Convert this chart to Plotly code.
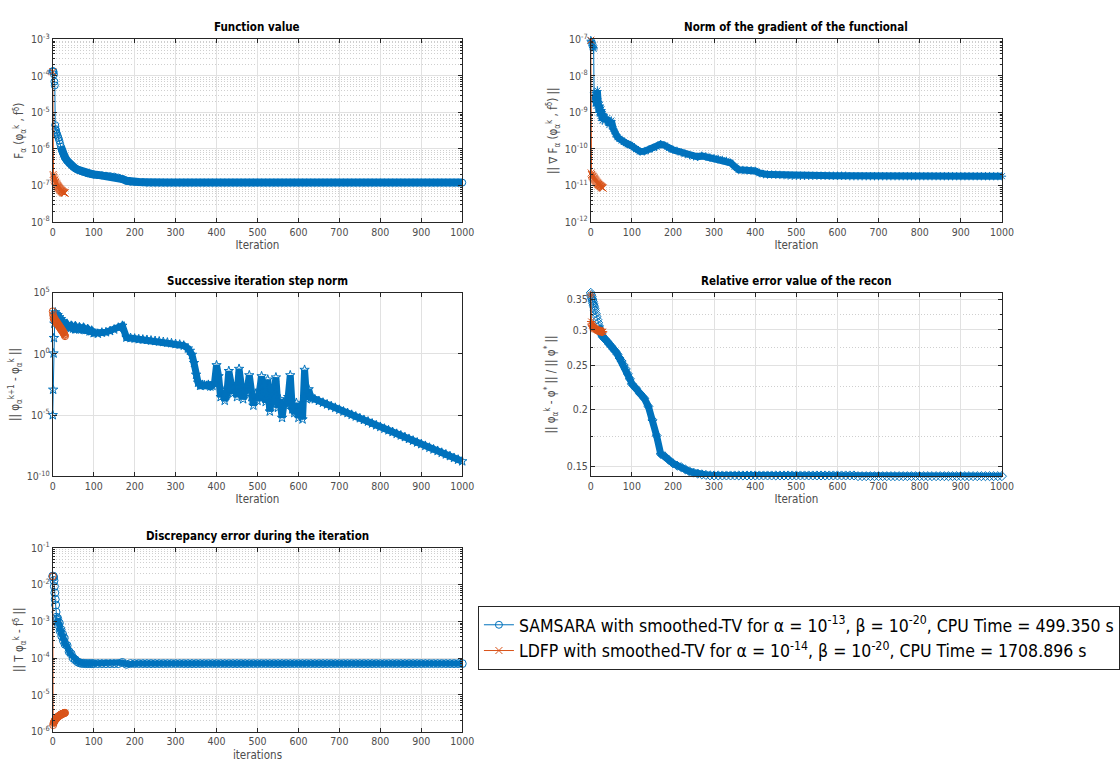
import math
import plotly.graph_objects as go

# ---------------- data ----------------
# iteration grid for SAMSARA (subplots 1, 2, 4, 5)
ITER = ([0, 1, 2, 3, 4, 5, 6, 7, 8, 9, 10,
         12, 14, 16, 18, 20, 22, 24, 26, 28, 30,
         35, 40, 45, 50, 55, 60, 65, 70, 75, 80, 85, 90, 95]
        + list(range(100, 1001, 10)))
# iteration grid for SAMSARA step norm (subplot 3)
ITER_STEP = ([0, 1, 2, 3, 4, 5, 6, 7, 8, 9, 10,
              12, 14, 16, 18, 20, 22, 24, 26, 28, 30,
              35, 40, 45, 50, 55, 60, 65, 70, 75, 80, 85, 90, 95]
             + list(range(100, 331, 10)) + list(range(335, 641, 5))
             + list(range(650, 1001, 10)))
# LDFP iterations
ITER_LDFP = list(range(0, 31))

# 1) function value
F_SAMSARA = [1.35e-4, 1.35e-4, 1.3e-4, 1.1e-4, 7e-5, 5.5e-5, 4.5e-6, 3.5e-6, 3.2e-6, 2.8e-6, 2.6e-6,
             2.3e-6, 2.0e-6, 1.7e-6, 1.4e-6, 1.15e-6, 9.5e-7, 8.3e-7, 7.3e-7, 6.5e-7, 5.8e-7,
             4.8e-7, 4.1e-7, 3.6e-7, 3.2e-7, 2.95e-7, 2.75e-7, 2.6e-7, 2.45e-7, 2.35e-7, 2.25e-7, 2.15e-7, 2.1e-7, 2.05e-7,
             2.0e-7, 1.95e-7, 1.9e-7, 1.85e-7, 1.8e-7, 1.75e-7, 1.65e-7, 1.5e-7, 1.35e-7, 1.27e-7,
             1.25e-7, 1.24e-7, 1.23e-7, 1.2e-7,
             1.2e-7, 1.2e-7, 1.2e-7, 1.2e-7, 1.2e-7, 1.2e-7, 1.2e-7, 1.2e-7, 1.2e-7, 1.2e-7,
             1.2e-7, 1.2e-7, 1.2e-7, 1.2e-7, 1.2e-7, 1.2e-7, 1.2e-7, 1.2e-7, 1.2e-7, 1.2e-7,
             1.2e-7, 1.2e-7, 1.2e-7, 1.2e-7, 1.2e-7, 1.2e-7, 1.2e-7, 1.2e-7, 1.2e-7, 1.2e-7,
             1.2e-7, 1.2e-7, 1.2e-7, 1.2e-7, 1.2e-7, 1.2e-7, 1.2e-7, 1.2e-7, 1.2e-7, 1.2e-7,
             1.2e-7, 1.2e-7, 1.2e-7, 1.2e-7, 1.2e-7, 1.2e-7, 1.2e-7, 1.2e-7, 1.2e-7, 1.2e-7,
             1.2e-7, 1.2e-7, 1.2e-7, 1.2e-7, 1.2e-7, 1.2e-7, 1.2e-7, 1.2e-7, 1.2e-7, 1.2e-7,
             1.2e-7, 1.2e-7, 1.2e-7, 1.2e-7, 1.2e-7, 1.2e-7, 1.2e-7, 1.2e-7, 1.2e-7, 1.2e-7,
             1.2e-7, 1.2e-7, 1.2e-7, 1.2e-7, 1.2e-7, 1.2e-7, 1.2e-7]
F_LDFP = [1.3e-4, 2.0e-7, 1.8e-7, 1.65e-7, 1.5e-7, 1.4e-7, 1.3e-7, 1.22e-7, 1.15e-7, 1.1e-7, 1.05e-7,
          1.0e-7, 9.6e-8, 9.2e-8, 8.9e-8, 8.6e-8, 8.3e-8, 8.0e-8, 7.8e-8, 7.6e-8, 7.4e-8,
          7.2e-8, 7.0e-8, 6.8e-8, 6.7e-8, 6.6e-8, 6.5e-8, 6.4e-8, 6.3e-8, 6.2e-8, 6.2e-8]

# 2) norm of gradient
G_SAMSARA = [9.5e-8, 9e-8, 8.5e-8, 8e-8, 7e-8, 6.5e-8, 6e-8, 5.5e-8, 3.5e-9, 2.5e-9, 2.2e-9,
             3e-9, 1.5e-9, 4e-9, 2e-9, 1e-9, 1.6e-9, 8e-10, 1.2e-9, 6e-10, 9e-10,
             6e-10, 7e-10, 4.5e-10, 6e-10, 3.5e-10, 2.6e-10, 2.1e-10, 1.9e-10, 1.7e-10, 1.55e-10, 1.45e-10, 1.35e-10, 1.3e-10,
             1.2e-10, 1.0e-10, 8.5e-11, 8.6e-11, 9.5e-11, 1.05e-10, 1.15e-10, 1.35e-10, 1.25e-10, 1.05e-10,
             9.5e-11, 8.8e-11, 8.0e-11, 7.3e-11, 6.8e-11, 6.3e-11, 6.1e-11, 6.5e-11, 6.2e-11, 5.8e-11,
             5.6e-11, 5.3e-11, 5.0e-11, 4.7e-11, 4.2e-11, 3.3e-11, 2.7e-11, 2.65e-11, 2.6e-11, 2.6e-11,
             2.5e-11, 2.2e-11, 2.05e-11, 2.0e-11, 2.0e-11, 1.98e-11, 1.95e-11, 1.92e-11, 1.88e-11, 1.85e-11,
             1.85e-11, 1.85e-11, 1.85e-11, 1.85e-11, 1.85e-11, 1.85e-11, 1.85e-11, 1.85e-11, 1.85e-11, 1.85e-11,
             1.85e-11, 1.85e-11, 1.85e-11, 1.8e-11, 1.8e-11, 1.8e-11, 1.8e-11, 1.8e-11, 1.8e-11, 1.8e-11,
             1.8e-11, 1.8e-11, 1.8e-11, 1.8e-11, 1.8e-11, 1.8e-11, 1.8e-11, 1.8e-11, 1.8e-11, 1.8e-11,
             1.8e-11, 1.8e-11, 1.8e-11, 1.8e-11, 1.8e-11, 1.8e-11, 1.8e-11, 1.8e-11, 1.8e-11, 1.8e-11,
             1.8e-11, 1.8e-11, 1.8e-11, 1.8e-11, 1.8e-11, 1.8e-11, 1.8e-11, 1.8e-11, 1.8e-11, 1.8e-11,
             1.8e-11]
G_LDFP = [9.5e-8, 2.2e-11, 2.0e-11, 1.9e-11, 1.8e-11, 1.75e-11, 1.7e-11, 1.6e-11, 1.55e-11, 1.5e-11, 1.45e-11,
          1.4e-11, 1.35e-11, 1.3e-11, 1.25e-11, 1.2e-11, 1.17e-11, 1.14e-11, 1.1e-11, 1.07e-11, 1.04e-11,
          1.02e-11, 1.0e-11, 9.8e-12, 9.6e-12, 9.4e-12, 9.2e-12, 9.0e-12, 8.8e-12, 8.6e-12, 8.5e-12]

# 3) successive iteration step norm
S_SAMSARA = [1e-5, 1.2e-3, 1.1, 20, 300, 1500, 2500, 800, 1800, 600, 1200,
             1500, 500, 1000, 350, 700, 250, 500, 200, 350, 150,
             250, 150, 200, 120, 180, 110, 150, 100, 140, 90, 110, 70, 80,
             50, 45, 55, 60, 75, 100, 140, 200, 22, 20,
             18, 16, 15, 14, 12.5, 11.5, 10.5, 9.5, 8.5, 7.5,
             6.5, 5.8, 4.8, 2.8,
             1.8, 0.85, 0.18, 0.02, 0.0045, 0.0025, 0.003, 0.0028, 0.0025, 0.003,
             0.0022, 0.0025, 0.004, 0.12, 0.015, 3e-4, 1e-3, 1.5e-4, 5e-4, 0.04,
             2e-3, 6e-4, 2e-3, 3e-4, 0.06, 1e-3, 2e-4, 1.2e-3, 1.2e-3, 0.018,
             3e-4, 6e-5, 5e-4, 1.5e-4, 1e-3, 0.015, 3e-4, 1.2e-4, 0.008, 2e-5,
             3e-4, 5e-4, 0.012, 4e-5, 2e-4, 6e-6, 1e-4, 6e-5, 3e-4, 0.018,
             3e-5, 1.5e-5, 1e-4, 6e-6, 3e-5, 4.5e-6, 0.05, 2e-4, 1.3e-3, 2.8e-4,
             2.4e-4, 2e-4,
             1.45e-4, 1.05e-4, 7.6e-5, 5.5e-5, 4.0e-5, 2.8e-5, 2.0e-5, 1.5e-5, 1.07e-5, 7.8e-6,
             5.6e-6, 4.1e-6, 3.0e-6, 2.1e-6, 1.5e-6, 1.1e-6, 7.9e-7, 5.8e-7, 4.2e-7, 3.0e-7,
             2.2e-7, 1.6e-7, 1.15e-7, 8.3e-8, 5.9e-8, 4.3e-8, 3.1e-8, 2.2e-8, 1.6e-8, 1.2e-8,
             8.5e-9, 6.2e-9, 4.5e-9, 3.2e-9, 2.3e-9, 1.7e-9]
S_LDFP = [3000, 1500, 800, 1000, 600, 700, 500, 550, 400, 450, 300,
          350, 250, 280, 200, 220, 160, 180, 130, 140, 100,
          110, 80, 90, 65, 70, 50, 55, 40, 35, 28]

# 4) relative error
R_SAMSARA = [0.362, 0.358, 0.355, 0.352, 0.349, 0.346, 0.343, 0.34, 0.337, 0.334, 0.331,
             0.326, 0.321, 0.316, 0.311, 0.306, 0.301, 0.297, 0.294, 0.291, 0.289,
             0.286, 0.283, 0.279, 0.276, 0.272, 0.269, 0.265, 0.26, 0.256, 0.251, 0.246, 0.240, 0.234,
             0.228, 0.223, 0.217, 0.212, 0.2035, 0.190, 0.1755, 0.160, 0.158, 0.155,
             0.1524, 0.1506, 0.1495, 0.1478, 0.1463, 0.1454, 0.1447, 0.1441, 0.1437, 0.1434,
             0.1433, 0.1433, 0.1433, 0.1433, 0.1433, 0.1433, 0.1433, 0.1433, 0.1433, 0.1433,
             0.1433, 0.1433, 0.1433, 0.1433, 0.1433, 0.1433, 0.1433, 0.1433, 0.1433, 0.1433,
             0.1433, 0.1433, 0.1433, 0.1433, 0.1433, 0.1433, 0.1433, 0.1433, 0.1433, 0.1433,
             0.1433, 0.1433, 0.1433, 0.1433, 0.1433, 0.1428, 0.1428, 0.1428, 0.1428, 0.1428,
             0.1428, 0.1428, 0.1428, 0.1428, 0.1428, 0.1428, 0.1428, 0.1428, 0.1428, 0.1428,
             0.1428, 0.1428, 0.1428, 0.1428, 0.1428, 0.1428, 0.1428, 0.1428, 0.1428, 0.1428,
             0.1428, 0.1428, 0.1428, 0.1428, 0.1428, 0.1428, 0.1428, 0.1428, 0.1428, 0.1428,
             0.1428]
R_LDFP = [0.358, 0.313, 0.309, 0.307, 0.306, 0.305, 0.304, 0.303, 0.303, 0.302, 0.302,
          0.301, 0.301, 0.301, 0.300, 0.300, 0.300, 0.299, 0.299, 0.299, 0.299,
          0.298, 0.298, 0.298, 0.298, 0.298, 0.297, 0.297, 0.297, 0.297, 0.297]

# 5) discrepancy
D_SAMSARA = [1.7e-2, 1.7e-2, 1.6e-2, 1.3e-2, 9e-3, 6e-3, 4e-3, 2.8e-3, 1.8e-3, 1.3e-3, 1.1e-3,
             1.2e-3, 8e-4, 9e-4, 5.5e-4, 6e-4, 4e-4, 4.5e-4, 3e-4, 3.5e-4, 2.4e-4,
             2.2e-4, 1.5e-4, 1.3e-4, 1e-4, 9e-5, 8e-5, 7.5e-5, 7.2e-5, 7.2e-5, 7.1e-5, 7.1e-5, 7.1e-5, 7.1e-5,
             7.1e-5, 7.1e-5, 7.1e-5, 7.1e-5, 7.1e-5, 7.1e-5, 7.1e-5, 7.6e-5, 6.8e-5, 7.1e-5,
             7.1e-5, 7.1e-5, 7.1e-5, 7.1e-5, 7.1e-5, 7.1e-5, 7.1e-5, 7.1e-5, 7.1e-5, 7.1e-5,
             7.1e-5, 7.1e-5, 7.1e-5, 7.1e-5, 7.1e-5, 7.1e-5, 7.1e-5, 7.1e-5, 7.1e-5, 7.1e-5,
             7.1e-5, 7.1e-5, 7.1e-5, 7.1e-5, 7.1e-5, 7.1e-5, 7.1e-5, 7.1e-5, 7.1e-5, 7.1e-5,
             7.1e-5, 7.1e-5, 7.1e-5, 7.1e-5, 7.1e-5, 7.1e-5, 7.1e-5, 7.1e-5, 7.1e-5, 7.1e-5,
             7.1e-5, 7.1e-5, 7.1e-5, 7.1e-5, 7.1e-5, 7.1e-5, 7.1e-5, 7.1e-5, 7.1e-5, 7.1e-5,
             7.1e-5, 7.1e-5, 7.1e-5, 7.1e-5, 7.1e-5, 7.1e-5, 7.1e-5, 7.1e-5, 7.1e-5, 7.1e-5,
             7.1e-5, 7.1e-5, 7.1e-5, 7.1e-5, 7.1e-5, 7.1e-5, 7.1e-5, 7.1e-5, 7.1e-5, 7.1e-5,
             7.1e-5, 7.1e-5, 7.1e-5, 7.1e-5, 7.1e-5, 7.1e-5, 7.1e-5, 7.1e-5, 7.1e-5, 7.1e-5,
             7.1e-5]
D_LDFP = [1.7e-2, 1.5e-6, 1.7e-6, 1.8e-6, 1.9e-6, 2.0e-6, 2.1e-6, 2.15e-6, 2.2e-6, 2.3e-6, 2.35e-6,
          2.4e-6, 2.5e-6, 2.55e-6, 2.6e-6, 2.65e-6, 2.7e-6, 2.75e-6, 2.8e-6, 2.85e-6, 2.9e-6,
          2.95e-6, 3.0e-6, 3.0e-6, 3.05e-6, 3.1e-6, 3.1e-6, 3.15e-6, 3.2e-6, 3.2e-6, 3.25e-6]

NAME_S = "SAMSARA with smoothed-TV for α = 10<sup>-13</sup>, β = 10<sup>-20</sup>, CPU Time = 499.350 s"
NAME_L = "LDFP with smoothed-TV for α = 10<sup>-14</sup>, β = 10<sup>-20</sup>, CPU Time = 1708.896 s"
X_TICKS = [0, 100, 200, 300, 400, 500, 600, 700, 800, 900, 1000]
R_TICKS = [0.15, 0.2, 0.25, 0.3, 0.35]
R_MINOR = [0.175, 0.225, 0.275, 0.325]

for nm, xs, ys in [("F", ITER, F_SAMSARA), ("G", ITER, G_SAMSARA), ("S", ITER_STEP, S_SAMSARA),
                   ("R", ITER, R_SAMSARA), ("D", ITER, D_SAMSARA), ("FL", ITER_LDFP, F_LDFP),
                   ("GL", ITER_LDFP, G_LDFP), ("SL", ITER_LDFP, S_LDFP), ("RL", ITER_LDFP, R_LDFP),
                   ("DL", ITER_LDFP, D_LDFP)]:
    if len(xs) != len(ys):
        raise ValueError(f"{nm}: {len(xs)} vs {len(ys)}")

# ---------------- style ----------------
BLUE = "#0072BD"
ORANGE = "#D95319"
FONT = "DejaVu Sans Condensed, Liberation Sans Narrow, DejaVu Sans, sans-serif"
AXC = "#262626"
GRID = "#e1e1e1"
MGRID = "#cfcfcf"
TICKC = "#4d4d4d"

fig = go.Figure()


def add(x, y, xa, ya, color, symbol, band_from, band_w, name=None, legend=False, size=7):
    # dense part of the run: markers overlap at every iteration -> solid band
    fig.add_trace(go.Scatter(
        x=x[band_from:], y=y[band_from:], xaxis=xa, yaxis=ya, mode="lines",
        showlegend=False, cliponaxis=False, hoverinfo="skip",
        line=dict(color=color, width=band_w),
    ))
    fig.add_trace(go.Scatter(
        x=x, y=y, xaxis=xa, yaxis=ya, mode="lines+markers", name=name,
        showlegend=legend, cliponaxis=False,
        line=dict(color=color, width=1),
        marker=dict(symbol=symbol, size=size, color=color, line=dict(color=color, width=1)),
    ))


add(ITER, F_SAMSARA, "x", "y", BLUE, "circle-open", 15, 8, NAME_S, True)
add(ITER_LDFP, F_LDFP, "x", "y", ORANGE, "x-thin-open", 1, 4, NAME_L, True)
add(ITER, G_SAMSARA, "x2", "y2", BLUE, "asterisk-open", 10, 7)
add(ITER_LDFP, G_LDFP, "x2", "y2", ORANGE, "x-thin-open", 1, 4)
add(ITER_STEP, S_SAMSARA, "x3", "y3", BLUE, "star-open", 5, 7)
add(ITER_LDFP, S_LDFP, "x3", "y3", ORANGE, "circle-open", 1, 5)
add(ITER, R_SAMSARA, "x4", "y4", BLUE, "diamond-open", 15, 7)
add(ITER_LDFP, R_LDFP, "x4", "y4", ORANGE, "asterisk-open", 1, 5)
add(ITER, D_SAMSARA, "x5", "y5", BLUE, "circle-open", 10, 6, size=8)
add(ITER_LDFP, D_LDFP, "x5", "y5", ORANGE, "circle-open", 1, 5)

W, H = 1120, 768
COL1 = [50.7 / W, 468 / W]
COL2 = [599 / W, 1018 / W]
ROW1 = [1 - 218 / H, 1 - 32 / H]
ROW2 = [1 - 477 / H, 1 - 290 / H]
ROW3 = [1 - 737 / H, 1 - 550 / H]
TICKFONT = dict(family=FONT, size=10.5, color=TICKC)
LABFONT = dict(family=FONT, size=11.5, color=TICKC)


def xaxis(domain, anchor, title):
    return dict(domain=domain, anchor=anchor, range=[0, 1000], tickmode="array",
                tickvals=X_TICKS, ticks="inside", ticklen=4, tickcolor=AXC,
                mirror="allticks", showline=True, linecolor=AXC, linewidth=1,
                showgrid=True, gridcolor=GRID, gridwidth=1, zeroline=False,
                tickfont=TICKFONT, title=dict(text=title, font=LABFONT, standoff=4))


def logaxis(domain, anchor, lo, hi, title, step=1, minor=True):
    vals = [10.0 ** e for e in range(lo, hi + 1, step)]
    txt = [f"10<sup>{e}</sup>" for e in range(lo, hi + 1, step)]
    ax = dict(domain=domain, anchor=anchor, type="log", range=[lo, hi], tickmode="array",
              tickvals=vals, ticktext=txt, ticks="inside", ticklen=4, tickcolor=AXC,
              mirror="allticks", showline=True, linecolor=AXC, linewidth=1,
              showgrid=True, gridcolor=GRID, gridwidth=1, zeroline=False,
              tickfont=TICKFONT, title=dict(text=title, font=LABFONT, standoff=4))
    if minor:
        mv = [k * 10.0 ** e for e in range(lo, hi) for k in range(2, 10)]
        ax["minor"] = dict(tickmode="array", tickvals=mv, ticks="inside", ticklen=2,
                           tickcolor=AXC, showgrid=True, gridcolor=MGRID, griddash="1px,2px", gridwidth=1)
    return ax


fig.update_layout(
    width=W, height=H, margin=dict(l=0, r=0, t=0, b=0),
    paper_bgcolor="white", plot_bgcolor="white",
    font=dict(family=FONT, size=11, color=TICKC),
    xaxis=xaxis(COL1, "y", "Iteration"),
    yaxis=logaxis(ROW1, "x", -8, -3, "F<sub>α</sub> (φ<sub>α</sub><sup>k</sup> , f<sup>δ</sup>)"),
    xaxis2=xaxis(COL2, "y2", "Iteration"),
    yaxis2=logaxis(ROW1, "x2", -12, -7, "|| ∇ F<sub>α</sub> (φ<sub>α</sub><sup>k</sup> , f<sup>δ</sup>) ||"),
    xaxis3=xaxis(COL1, "y3", "Iteration"),
    yaxis3=logaxis(ROW2, "x3", -10, 5, "|| φ<sub>α</sub><sup>k+1</sup> - φ<sub>α</sub><sup>k</sup> ||", step=5, minor=False),
    xaxis4=xaxis(COL2, "y4", "Iteration"),
    yaxis4=dict(domain=ROW2, anchor="x4", type="log",
                range=[math.log10(0.1427), math.log10(0.3622)],
                tickmode="array", tickvals=R_TICKS, ticktext=["0.15", "0.2", "0.25", "0.3", "0.35"],
                ticks="inside", ticklen=4, tickcolor=AXC, mirror="allticks", showline=True,
                linecolor=AXC, linewidth=1, showgrid=True, gridcolor=GRID, zeroline=False,
                tickfont=TICKFONT,
                minor=dict(tickmode="array", tickvals=R_MINOR, ticks="inside", ticklen=2, tickcolor=AXC,
                           showgrid=True, gridcolor=MGRID, griddash="1px,2px"),
                title=dict(text="|| φ<sub>α</sub><sup>k</sup> - φ<sup>*</sup> || / || φ<sup>*</sup> ||",
                           font=LABFONT, standoff=8)),
    xaxis5=xaxis(COL1, "y5", "iterations"),
    yaxis5=logaxis(ROW3, "x5", -6, -1, "|| T φ<sub>α</sub><sup>k</sup> - f<sup>δ</sup> ||"),
    legend=dict(x=484 / W, y=1 - 609 / H, xanchor="left", yanchor="top",
                bgcolor="white", bordercolor=AXC, borderwidth=1,
                font=dict(family=FONT, size=17.5, color="#000000"),
                itemwidth=30, tracegroupgap=4),
    showlegend=True,
)

TITLES = [("Function value", COL1, ROW1), ("Norm of the gradient of the functional", COL2, ROW1),
          ("Successive iteration step norm", COL1, ROW2), ("Relative error value of the recon", COL2, ROW2),
          ("Discrepancy error during the iteration", COL1, ROW3)]
for t, c, r in TITLES:
    fig.add_annotation(text=f"<b>{t}</b>", x=(c[0] + c[1]) / 2, y=r[1], xref="paper", yref="paper",
                       xanchor="center", yanchor="bottom", yshift=3, showarrow=False,
                       font=dict(family=FONT, size=11.5, color="#000000"))

fig.write_html("out.html")
